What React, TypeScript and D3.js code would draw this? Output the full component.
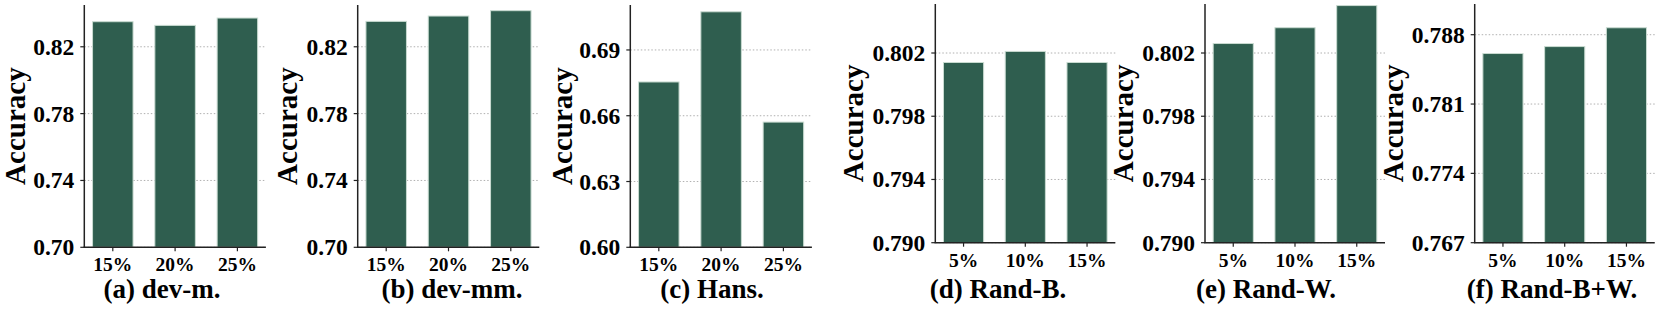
import React from "react"
import * as d3 from "d3"

// percent categories
const catsHigh = ["15%", "20%", "25%"]
const catsLow = ["5%", "10%", "15%"]

// accuracy values
const devM = [0.835, 0.8328, 0.8372]
const devMM = [0.8352, 0.8384, 0.8416]
const hans = [0.6754, 0.7074, 0.6571]
const randB = [0.8014, 0.8021, 0.8014]
const randW = [0.8026, 0.8036, 0.805]
const randBW = [0.7861, 0.7868, 0.7887]

// tick labels
const ticksDev = ["0.70", "0.74", "0.78", "0.82"]
const ticksHans = ["0.60", "0.63", "0.66", "0.69"]
const ticksRand = ["0.790", "0.794", "0.798", "0.802"]
const ticksRandBW = ["0.767", "0.774", "0.781", "0.788"]

const titles = ["(a) dev-m.", "(b) dev-mm.", "(c) Hans.", "(d) Rand-B.", "(e) Rand-W.", "(f) Rand-B+W."]

const FONT = "'Liberation Serif', 'Times New Roman', serif"
const BAR = "#2f5e4f"

const panels = [
  {title: titles[0], cats: catsHigh, vals: devM, ticks: ticksDev, dom: [0.70, 0.845], left: 84.3, top: 5, bottom: 247.3, w: 181.6, labOff: 59.5, capX: 162},
  {title: titles[1], cats: catsHigh, vals: devMM, ticks: ticksDev, dom: [0.70, 0.845], left: 357.7, top: 5, bottom: 247.3, w: 181.6, labOff: 61, capX: 452},
  {title: titles[2], cats: catsHigh, vals: hans, ticks: ticksHans, dom: [0.60, 0.7105], left: 630.3, top: 5, bottom: 247.3, w: 181.6, labOff: 58.6, capX: 712},
  {title: titles[3], cats: catsLow, vals: randB, ticks: ticksRand, dom: [0.790, 0.8051], left: 935.3, top: 4, bottom: 242.7, w: 180, labOff: 72, capX: 998},
  {title: titles[4], cats: catsLow, vals: randW, ticks: ticksRand, dom: [0.790, 0.8051], left: 1205, top: 4, bottom: 242.7, w: 180, labOff: 71.7, capX: 1266},
  {title: titles[5], cats: catsLow, vals: randBW, ticks: ticksRandBW, dom: [0.767, 0.7911], left: 1474.7, top: 4, bottom: 242.7, w: 180, labOff: 71.4, capX: 1552},
]

const Panel = ({p}: {p: any}) => {
  const x = d3.scaleBand().domain(p.cats).range([p.left, p.left + p.w]).paddingInner(0.35).paddingOuter(0.1325)
  const y = d3.scaleLinear().domain(p.dom).range([p.bottom, p.top])
  const right = p.left + p.w
  return (
    <g>
      {/* grid */}
      {p.ticks.map((t: string) => (
        <line key={"g" + t} x1={p.left} x2={right} y1={y(+t)} y2={y(+t)}
          stroke="#b0b0b0" strokeWidth={1} strokeDasharray="1.5,2" />
      ))}
      {/* bars */}
      {p.vals.map((v: number, i: number) => (
        <rect key={i} x={x(p.cats[i])} width={x.bandwidth()}
          y={y(v)} height={p.bottom - y(v)}
          fill={BAR} stroke="#c9dbd1" strokeWidth={1} />
      ))}
      {/* axes */}
      <line x1={p.left} x2={p.left} y1={p.top} y2={p.bottom} stroke="#222" strokeWidth={1.5} />
      <line x1={p.left - 0.75} x2={right} y1={p.bottom} y2={p.bottom} stroke="#222" strokeWidth={1.5} />
      {p.ticks.map((t: string) => (
        <g key={"t" + t}>
          <line x1={p.left - 4} x2={p.left} y1={y(+t)} y2={y(+t)} stroke="#222" strokeWidth={1.2} />
          <text x={p.left - 10} y={y(+t)} dy="0.34em" textAnchor="end" fontSize={23.5} fontWeight="bold" fontFamily={FONT}>{t}</text>
        </g>
      ))}
      {p.cats.map((c: string) => (
        <g key={"x" + c}>
          <line x1={x(c)! + x.bandwidth() / 2} x2={x(c)! + x.bandwidth() / 2} y1={p.bottom} y2={p.bottom + 4} stroke="#222" strokeWidth={1.2} />
          <text x={x(c)! + x.bandwidth() / 2} y={p.bottom + 24} textAnchor="middle" fontSize={19.5} fontWeight="bold" fontFamily={FONT}>{c}</text>
        </g>
      ))}
      <text transform={`translate(${p.left - p.labOff},${(p.top + p.bottom) / 2}) rotate(-90)`}
        textAnchor="middle" fontSize={29} fontWeight="bold" fontFamily={FONT}>Accuracy</text>
      <text x={p.capX} y={298} textAnchor="middle" fontSize={27} fontWeight="bold" fontFamily={FONT}>{p.title}</text>
    </g>
  )
}

export default function App() {
  return (
    <svg width={1660} height={309} style={{position: "absolute", left: 0, top: 0, background: "#fff"}}>
      {panels.map((p, i) => <Panel key={i} p={p} />)}
    </svg>
  )
}
